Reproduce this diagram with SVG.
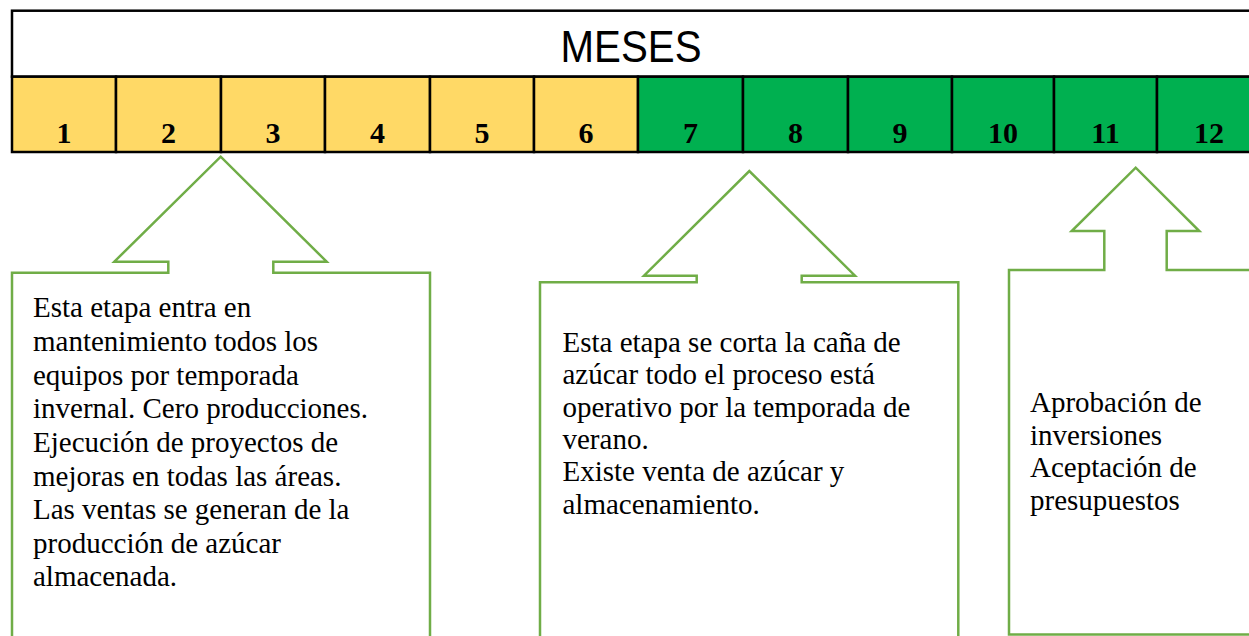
<svg xmlns="http://www.w3.org/2000/svg" width="1249" height="636" viewBox="0 0 1249 636">
<style>
.cell{stroke:#000;stroke-width:2.5}
.y{fill:#FFD966}
.g{fill:#00B050}
.num{font-family:"Liberation Serif","Times New Roman",serif;font-weight:bold;font-size:30px;fill:#000;text-anchor:middle}
.title{font-family:"Liberation Sans",Arial,sans-serif;font-size:45px;fill:#000}
.callout{fill:#fff;stroke:#70AD47;stroke-width:2.5;stroke-linejoin:miter}
.txt{font-family:"Liberation Serif","Times New Roman",serif;font-size:29px;fill:#000}
</style>
<rect width="1249" height="636" fill="#fff"/>
<g id="header">
<rect x="12" y="10.7" width="1260" height="66" fill="#fff" class="cell"/>
<text class="title" x="560.5" y="62.3" textLength="141" lengthAdjust="spacingAndGlyphs">MESES</text>
</g>
<g id="months">
<rect class="cell y" x="12" y="76.7" width="104" height="75.3"/>
<rect class="cell y" x="116" y="76.7" width="105" height="75.3"/>
<rect class="cell y" x="221" y="76.7" width="104" height="75.3"/>
<rect class="cell y" x="325" y="76.7" width="105" height="75.3"/>
<rect class="cell y" x="430" y="76.7" width="104" height="75.3"/>
<rect class="cell y" x="534" y="76.7" width="104" height="75.3"/>
<rect class="cell g" x="638" y="76.7" width="105" height="75.3"/>
<rect class="cell g" x="743" y="76.7" width="105" height="75.3"/>
<rect class="cell g" x="848" y="76.7" width="104" height="75.3"/>
<rect class="cell g" x="952" y="76.7" width="102" height="75.3"/>
<rect class="cell g" x="1054" y="76.7" width="103" height="75.3"/>
<rect class="cell g" x="1157" y="76.7" width="104" height="75.3"/>
<text class="num" x="64" y="143">1</text>
<text class="num" x="168.5" y="143">2</text>
<text class="num" x="273" y="143">3</text>
<text class="num" x="377.5" y="143">4</text>
<text class="num" x="482" y="143">5</text>
<text class="num" x="586" y="143">6</text>
<text class="num" x="690.5" y="143">7</text>
<text class="num" x="795.5" y="143">8</text>
<text class="num" x="900" y="143">9</text>
<text class="num" x="1003" y="143">10</text>
<text class="num" x="1105.5" y="143">11</text>
<text class="num" x="1209" y="143">12</text>
</g>
<g id="callout1">
<path class="callout" d="M12,272.7 H168.3 V261.7 H114.3 L220.7,156.7 L326.7,261.7 H273.3 V272.7 H430 V645 H12 Z"/>
<text class="txt" x="33" y="317">Esta etapa entra en</text>
<text class="txt" x="33" y="351">mantenimiento todos los</text>
<text class="txt" x="33" y="384.5">equipos por temporada</text>
<text class="txt" x="33" y="418">invernal. Cero producciones.</text>
<text class="txt" x="33" y="452">Ejecución de proyectos de</text>
<text class="txt" x="33" y="485.5">mejoras en todas las áreas.</text>
<text class="txt" x="33" y="519">Las ventas se generan de la</text>
<text class="txt" x="33" y="552.5">producción de azúcar</text>
<text class="txt" x="33" y="586">almacenada.</text>
</g>
<g id="callout2">
<path class="callout" d="M540,282.3 H696.7 V275.7 H644 L749.3,171 L855,275.7 H801.7 V282.3 H958.3 V645 H540 Z"/>
<text class="txt" x="562.5" y="352">Esta etapa se corta la caña de</text>
<text class="txt" x="562.5" y="384.3">azúcar todo el proceso está</text>
<text class="txt" x="562.5" y="416.6">operativo por la temporada de</text>
<text class="txt" x="562.5" y="448.9">verano.</text>
<text class="txt" x="562.5" y="481.2">Existe venta de azúcar y</text>
<text class="txt" x="562.5" y="513.5">almacenamiento.</text>
</g>
<g id="callout3">
<path class="callout" d="M1009,270 H1104.3 V231 H1071.7 L1135.7,167.7 L1199.3,231 H1166.7 V270 H1260 V634.5 H1009 Z"/>
<text class="txt" x="1030" y="412">Aprobación de</text>
<text class="txt" x="1030" y="444.5">inversiones</text>
<text class="txt" x="1030" y="477">Aceptación de</text>
<text class="txt" x="1030" y="509.5">presupuestos</text>
</g>
<g id="connectors"/>
</svg>
